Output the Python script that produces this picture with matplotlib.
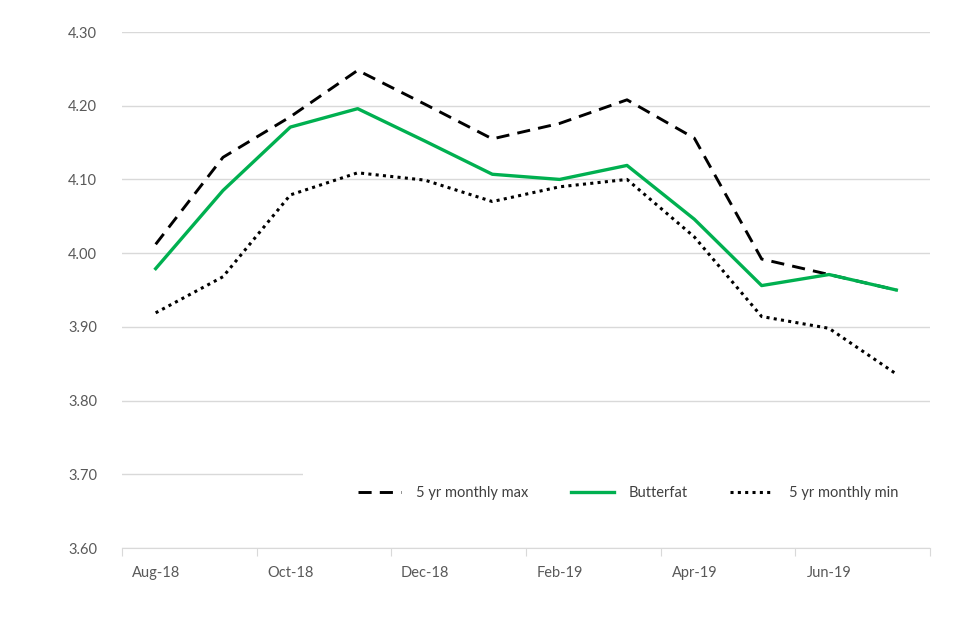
import matplotlib
matplotlib.use("Agg")
import matplotlib.pyplot as plt
from matplotlib.patches import Rectangle

months = ["Aug-18", "Sep-18", "Oct-18", "Nov-18", "Dec-18", "Jan-19",
          "Feb-19", "Mar-19", "Apr-19", "May-19", "Jun-19", "Jul-19"]
max5 = [4.012, 4.130, 4.185, 4.248, 4.202, 4.155, 4.176, 4.208, 4.156, 3.992, 3.971, 3.950]
butterfat = [3.979, 4.085, 4.171, 4.196, 4.152, 4.107, 4.100, 4.119, 4.046, 3.956, 3.971, 3.950]
min5 = [3.919, 3.968, 4.079, 4.109, 4.099, 4.070, 4.090, 4.100, 4.022, 3.914, 3.898, 3.836]
yticks = [3.60, 3.70, 3.80, 3.90, 4.00, 4.10, 4.20, 4.30]

plt.rcParams['font.family'] = ['Lato', 'DejaVu Sans']
fig = plt.figure(figsize=(9.6, 6.4), dpi=100)
ax = fig.add_axes([122/960, 1-548/640, 808/960, 516/640])

x = list(range(len(months)))
ax.plot(x, max5, color='black', lw=2.1, linestyle=(0, (4.5, 2.8)), label='5 yr monthly max', zorder=3)
ax.plot(x, butterfat, color='#00B050', lw=2.4, label='Butterfat', zorder=4)
ax.plot(x, min5, color='black', lw=2.2, linestyle=(0, (1, 1.4)), label='5 yr monthly min', zorder=5)

ax.set_xlim(-0.5, len(months) - 0.5)
ax.set_ylim(3.60, 4.30)
ax.set_yticks(yticks)
ax.set_yticklabels([f"{v:.2f}" for v in yticks])
ax.yaxis.grid(True, color='#d9d9d9', lw=1)
ax.set_axisbelow(True)

ax.set_xticks([i - 0.5 for i in range(0, len(months) + 1, 2)])
ax.set_xticklabels([])
ax.set_xticks(list(range(0, len(months), 2)), minor=True)
ax.set_xticklabels(months[::2], minor=True)
ax.tick_params(axis='x', which='major', length=6, color='#d9d9d9', direction='out')
ax.tick_params(axis='x', which='minor', length=0, pad=13, labelcolor='#595959', labelsize=10.5)
ax.tick_params(axis='y', length=0, pad=18, labelcolor='#595959', labelsize=10.5)

for s in ['top', 'right', 'left']:
    ax.spines[s].set_visible(False)
ax.spines['bottom'].set_color('#d9d9d9')

# white legend background covering part of the 3.70 gridline
ax.add_patch(Rectangle((0.224, 0.06), 0.776, 0.10, transform=ax.transAxes,
                       facecolor='white', edgecolor='none', zorder=2))

leg = ax.legend(loc='center', ncol=3, bbox_to_anchor=(0.626, 0.107),
                frameon=False, fontsize=10.5, handlelength=3.0, handletextpad=1.0,
                columnspacing=2.9)
for t in leg.get_texts():
    t.set_color('#404040')
leg.set_zorder(10)

fig.savefig("out.png", dpi=100)
